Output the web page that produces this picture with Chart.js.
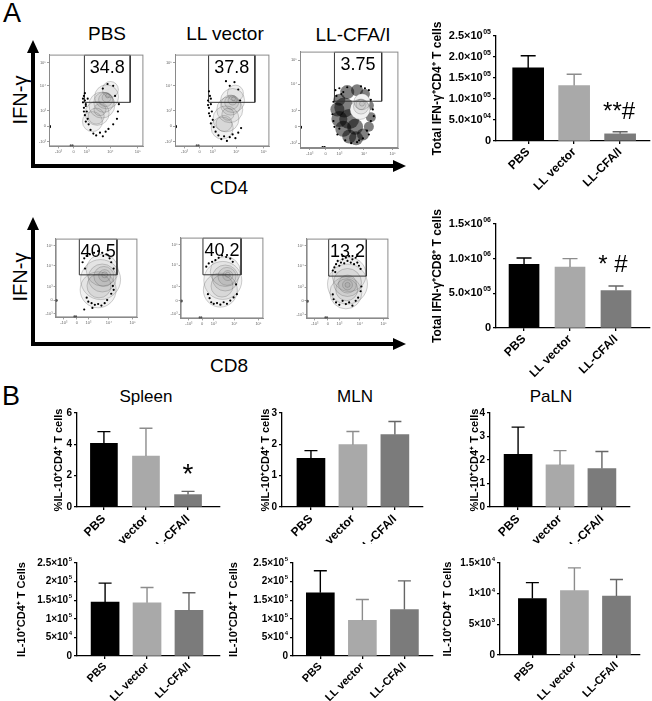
<!DOCTYPE html>
<html><head><meta charset="utf-8">
<script src="https://cdn.jsdelivr.net/npm/chart.js@4.4.1/dist/chart.umd.min.js"></script>
<style>
html,body{margin:0;padding:0;background:#fff;}
#wrap{position:relative;width:652px;height:701px;overflow:hidden;font-family:Arial,"Liberation Sans",Helvetica,sans-serif;background:#fff;}
canvas{position:absolute;}
.lbl{position:absolute;white-space:nowrap;color:#000;line-height:1;transform:translate(-50%,-50%);}
.rot{transform:translate(-50%,-50%) rotate(-90deg);}
svg{position:absolute;left:0;top:0;}
</style></head><body>
<div id="wrap">
  <div class="lbl" style="left:12px;top:13px;font-size:27px">A</div>
  <div class="lbl" style="left:11px;top:396px;font-size:27px">B</div>
  <div class="lbl" style="left:107px;top:33px;font-size:19px">PBS</div>
  <div class="lbl" style="left:225px;top:33px;font-size:19px">LL vector</div>
  <div class="lbl" style="left:353px;top:34px;font-size:19px">LL-CFA/I</div>
  <div class="lbl rot" style="left:20px;top:100px;font-size:20px">IFN-γ</div>
  <div class="lbl rot" style="left:20px;top:277px;font-size:20px">IFN-γ</div>
  <div class="lbl" style="left:229px;top:187px;font-size:19px">CD4</div>
  <div class="lbl" style="left:229px;top:365px;font-size:19px">CD8</div>
  <div class="lbl" style="left:146px;top:396px;font-size:17px">Spleen</div>
  <div class="lbl" style="left:355px;top:396px;font-size:17px">MLN</div>
  <div class="lbl" style="left:551px;top:396px;font-size:17px">PaLN</div>
</div>
<script>
// ---------------- DATA ----------------
const categories = ['PBS', 'LL vector', 'LL-CFA/I'];

// Panel A: total IFN-γ+ CD4+ T cells (mean, SEM)
const ifnCD4Mean = [1.74e5, 1.32e5, 0.17e5];
const ifnCD4Sem  = [0.29e5, 0.27e5, 0.05e5];
const ifnCD4Ticks = [0, 5e4, 1e5, 1.5e5, 2e5, 2.5e5];
const ifnCD4TickLabels = ['0', '5.0×10⁰⁴', '1.0×10⁰⁵', '1.5×10⁰⁵', '2.0×10⁰⁵', '2.5×10⁰⁵'];
const ifnCD4Sig = ['', '', '**#'];

// Panel A: total IFN-γ+ CD8+ T cells
const ifnCD8Mean = [0.92e6, 0.88e6, 0.54e6];
const ifnCD8Sem  = [0.09e6, 0.12e6, 0.065e6];
const ifnCD8Ticks = [0, 5e5, 1e6, 1.5e6];
const ifnCD8TickLabels = ['0', '5.0×10⁰⁵', '1.0×10⁰⁶', '1.5×10⁰⁶'];
const ifnCD8Sig = ['', '', '* #'];

// Panel B: % IL-10+ CD4+ T cells
const pctSpleenMean = [4.06, 3.25, 0.79];
const pctSpleenSem  = [0.75, 1.78, 0.21];
const pctSpleenTicks = [0, 2, 4, 6];
const pctSpleenSig = ['', '', '*'];
const pctMLNMean = [1.55, 1.99, 2.31];
const pctMLNSem  = [0.25, 0.42, 0.42];
const pctMLNTicks = [0, 1, 2, 3];
const pctPaLNMean = [2.24, 1.79, 1.64];
const pctPaLNSem  = [1.16, 0.61, 0.72];
const pctPaLNTicks = [0, 1, 2, 3, 4];

// Panel B: IL-10+ CD4+ T cell counts
const cntSpleenMean = [1.45e5, 1.43e5, 1.23e5];
const cntSpleenSem  = [0.51e5, 0.41e5, 0.47e5];
const cntMLNMean = [1.70e5, 0.96e5, 1.25e5];
const cntMLNSem  = [0.59e5, 0.56e5, 0.77e5];
const cnt5Ticks = [0, 5e4, 1e5, 1.5e5, 2e5, 2.5e5];
const cnt5TickLabels = ['0', '5×10⁴', '1×10⁵', '1.5×10⁵', '2×10⁵', '2.5×10⁵'];
const cntPaLNMean = [9.2e3, 1.05e4, 9.6e3];
const cntPaLNSem  = [2.6e3, 3.7e3, 2.7e3];
const cntPaLNTicks = [0, 5e3, 1e4, 1.5e4];
const cntPaLNTickLabels = ['0', '5×10³', '1×10⁴', '1.5×10⁴'];

// Flow plots (axis units 0-100 on display scale)
const flowXTicks = [10, 26, 40, 65, 94];
const flowYTicks = [5, 22, 39, 66, 91];
const flowTickLabels = ['-10³', '0', '10³', '10⁴', '10⁵'];
const gatePct = ['34.8', '37.8', '3.75', '40.5', '40.2', '13.2'];
const gateX1 = [37.5, 35.6, 35, 29, 27, 27];
const gateX2 = [86, 84.6, 83, 75, 73, 73];
const gateY1 = [48, 48, 48.5, 54, 54, 53];

const cd4PbsRings = [[46,27,10],[51,36,12],[56,45,13],[61,54,12],[65,62,8],[58,48,10],[60,51,7],[61,53,4.5],[62,55,2],[50,33,8],[54,40,6]];
const cd4PbsDots = [[37,55],[38,50],[39,46],[37,42],[40,38],[38,34],[41,30],[39,27],[42,24],[44,18],[47,14],[50,12],[54,15],[57,11],[60,16],[63,19],[68,24],[72,30],[73,38],[74,46],[70,55],[68,66],[62,68],[57,63],[41,52],[36,48],[38,58],[36,52],[39,44],[37,38],[1,22],[1,21],[23,1],[25,1]];
const cd4VecRings = [[50,20,11],[54,30,13],[58,40,13],[61,50,12],[64,58,8],[59,45,10],[60,48,7],[61,50,4.5],[62,52,2],[52,25,8],[56,35,6]];
const cd4VecDots = [[36,60],[37,55],[35,50],[38,46],[36,42],[39,38],[37,33],[40,29],[38,25],[41,21],[43,16],[46,12],[49,8],[52,11],[55,6],[58,10],[61,13],[64,9],[67,15],[70,20],[69,50],[67,62],[63,70],[58,66],[54,71],[35,45],[38,52],[36,36],[1,22],[1,21],[23,1],[25,1]];
const cd4CfaHalo = [[40,50,6],[38,40,7],[40,30,8],[44,20,8],[50,12,7],[57,10,7],[64,14,6],[70,22,5],[72,32,5],[70,44,5],[66,56,5],[58,60,6],[48,58,7],[45,42,10],[50,30,10],[56,22,8]];
const cd4CfaCore = [[61,40,10],[63,48,8]];
const cd4CfaRings = [[61,40,10],[63,48,8],[62,43,7.5],[62,45,5],[63,46,2.5]];
const cd4CfaDots = [[36,60],[40,62],[44,58],[48,63],[62,64],[66,62],[70,60],[72,50],[74,40],[72,28],[68,18],[64,10],[58,6],[52,5],[46,8],[38,14],[35,22],[33,35],[34,48],[75,33],[37,54],[42,56],[34,28],[40,20],[70,14],[60,8],[1,22],[1,21],[23,1],[25,1]];

const cd8PbsRings = [[52,35,18],[55,48,20],[57,60,16],[57,50,14],[59,52,10],[60,53,6],[60,54,3],[53,40,12]];
const cd8PbsDots = [[33,70],[35,75],[38,78],[42,80],[47,82],[52,84],[57,82],[62,80],[66,75],[68,70],[36,62],[71,62],[70,40],[71,35],[68,30],[38,25],[40,20],[44,18],[48,16],[52,17],[56,15],[60,18],[63,22],[35,10],[45,12],[1,22],[1,21],[23,1],[25,1]];
const cd8VecRings = [[48,35,17],[51,47,19],[54,58,15],[54,50,13],[56,52,9],[57,53,5],[57,54,2.5],[50,40,11]];
const cd8VecDots = [[31,64],[34,68],[38,70],[42,72],[46,75],[50,78],[55,76],[60,74],[63,70],[33,30],[35,25],[37,20],[40,18],[44,19],[48,17],[52,20],[56,18],[60,22],[64,26],[68,30],[67,42],[1,22],[1,21],[23,1],[25,1]];
const cd8CfaRings = [[48,32,16],[50,43,20],[52,55,17],[50,45,14],[50,43,9],[50,42,5],[50,42,2.5],[49,36,11]];
const cd8CfaDots = [[32,60],[34,64],[36,68],[38,72],[40,66],[42,70],[44,74],[46,69],[48,76],[50,72],[52,78],[54,70],[56,74],[58,68],[60,76],[62,70],[64,66],[66,62],[62,80],[44,78],[35,58],[32,30],[33,24],[36,20],[40,17],[44,22],[48,18],[52,20],[56,16],[60,22],[63,26],[66,34],[67,40],[1,22],[1,21],[23,1],[25,1]];

// ---------------- STYLE / LAYOUT ----------------
const FONT = 'Arial, "Liberation Sans", Helvetica, sans-serif';
Chart.defaults.font.family = FONT;
const barColors = ['#000000', '#a9a9a9', '#7b7b7b'];
const errColors = ['#000000', '#8c8c8c', '#666666'];
const SUP = '⁰¹²³⁴⁵⁶⁷⁸⁹';
const wrap = document.getElementById('wrap');

function makeCanvas(left, top, w, h) {
  const c = document.createElement('canvas');
  c.width = w; c.height = h;
  c.style.left = left + 'px'; c.style.top = top + 'px';
  c.style.width = w + 'px'; c.style.height = h + 'px';
  wrap.appendChild(c);
  return c;
}

// draws a tick label such as "2.5×10⁰⁵" with a real raised exponent
function drawTickLabel(ctx, text, xRight, y, size) {
  const m = text.match(/^(.*?)([⁰¹²³⁴⁵⁶⁷⁸⁹]*)$/);
  const base = m[1];
  const exp = m[2].split('').map(c => SUP.indexOf(c)).join('');
  const bf = 'bold ' + size + 'px ' + FONT;
  const ef = 'bold ' + Math.round(size * 0.62) + 'px ' + FONT;
  ctx.font = ef; const ew = exp ? ctx.measureText(exp).width + 0.5 : 0;
  ctx.font = bf; const bw = ctx.measureText(base).width;
  const x0 = xRight - ew - bw;
  ctx.textAlign = 'left'; ctx.textBaseline = 'middle'; ctx.fillStyle = '#000';
  ctx.fillText(base, x0, y);
  if (exp) { ctx.font = ef; ctx.fillText(exp, x0 + bw + 0.5, y - size * 0.38); }
}

function barChart(s) {
  const padRight = 3;
  const left = s.axisX - s.yW, top = s.chartTop - s.padTop;
  const w = s.yW + (s.chartRight - s.axisX) + padRight;
  const h = s.padTop + (s.chartBottom - s.chartTop) + s.xH;
  const cv = makeCanvas(left, top, w, h);
  const labels = s.tickLabels || s.ticks.map(String);
  const errPlugin = {
    id: 'err',
    beforeDraw(chart) {
      if (!s.whiteBg) return;
      const ctx = chart.ctx; ctx.save(); ctx.fillStyle = '#fff';
      ctx.fillRect(0, 0, chart.width, chart.height); ctx.restore();
    },
    afterDatasetsDraw(chart) {
      const xs = chart.scales.x, ys = chart.scales.y, ctx = chart.ctx;
      ctx.save();
      s.mean.forEach((m, i) => {
        const x = xs.getPixelForValue(i);
        const y0 = ys.getPixelForValue(m), y1 = ys.getPixelForValue(m + s.sem[i]);
        ctx.strokeStyle = errColors[i]; ctx.lineWidth = 1.4;
        ctx.beginPath();
        ctx.moveTo(x, y0); ctx.lineTo(x, y1);
        ctx.moveTo(x - s.cap / 2, y1); ctx.lineTo(x + s.cap / 2, y1);
        ctx.stroke();
        if (s.sig && s.sig[i]) {
          ctx.fillStyle = '#000';
          ctx.font = (s.sigSize || 24) + 'px ' + FONT;
          ctx.textAlign = 'center'; ctx.textBaseline = 'alphabetic';
          ctx.fillText(s.sig[i], x + (s.sigDx || 0), y1 - s.sigDy);
        }
      });
      // y tick labels with raised exponents
      s.ticks.forEach((v, i) => drawTickLabel(ctx, labels[i], chart.chartArea.left - 5, ys.getPixelForValue(v), s.tickSize || 10));
      ctx.restore();
    }
  };
  const gridStyle = { drawOnChartArea: false, drawTicks: true, tickLength: 3, color: '#000', lineWidth: 1.3, offset: false };
  new Chart(cv, {
    type: 'bar',
    data: { datasets: [{
      data: s.mean.map((v, i) => ({ x: i, y: v })),
      backgroundColor: barColors, borderWidth: 0, barThickness: s.barW
    }] },
    options: {
      responsive: false, animation: false, events: [],
      layout: { padding: { top: s.padTop, right: padRight, left: 0, bottom: 0 } },
      plugins: { legend: { display: false }, tooltip: { enabled: false } },
      scales: {
        x: {
          type: 'linear', min: s.xMin, max: s.xMax, offset: false,
          afterBuildTicks: sc => { sc.ticks = categories.map((c, i) => ({ value: i })); },
          afterFit: sc => { sc.height = s.xH; },
          ticks: { callback: v => categories[v], minRotation: 45, maxRotation: 45, autoSkip: false,
                   font: { weight: 'bold', size: s.catSize || 11 }, color: '#000', padding: s.catPad || 1 },
          grid: gridStyle, border: { color: '#000', width: 1.3 }
        },
        y: {
          min: 0, max: s.ticks[s.ticks.length - 1],
          afterBuildTicks: sc => { sc.ticks = s.ticks.map(v => ({ value: v })); },
          afterFit: sc => { sc.width = s.yW; },
          ticks: { callback: v => labels[s.ticks.indexOf(v)], color: 'rgba(0,0,0,0)', font: { weight: 'bold', size: s.tickSize || 10 }, padding: 2 },
          grid: gridStyle, border: { color: '#000', width: 1.3 },
          title: { display: true, text: s.title, color: '#000', font: { weight: 'bold', size: s.titleSize || 11 }, padding: { top: 4, bottom: 0 } }
        }
      }
    },
    plugins: [errPlugin]
  });
}

function toPts(a) { return a.map(p => ({ x: p[0], y: p[1] })); }
function toBub(a) { return a.map(p => ({ x: p[0], y: p[1], r: p[2] })); }

function flowChart(f, gi, rings, dots, halo, core) {
  const yW = 14, xH = 12, padTop = 4, padRight = 4;
  const cv = makeCanvas(f.l - yW, f.t - padTop, f.w + yW + padRight, f.h + padTop + xH);
  const gate = [[gateX1[gi], gateY1[gi]], [gateX1[gi], 99.5], [gateX2[gi], 99.5], [gateX2[gi], gateY1[gi]], [gateX1[gi], gateY1[gi]]];
  const ds = [
    { type: 'scatter', data: toPts(dots), pointRadius: 1.1, pointBackgroundColor: '#000', pointBorderWidth: 0, order: 0 },
    { type: 'line', data: toPts(gate), borderColor: '#333', borderWidth: 1, pointRadius: 0, fill: false, tension: 0, order: 1 },
    { type: 'bubble', data: toBub(rings), backgroundColor: 'rgba(120,120,120,0.10)', borderColor: 'rgba(80,80,80,0.45)', borderWidth: 0.6, order: 2 }
  ];
  if (core) ds.push({ type: 'bubble', data: toBub(core), backgroundColor: '#ffffff', borderWidth: 0, order: 3 });
  if (halo) ds.push({ type: 'bubble', data: toBub(halo), backgroundColor: 'rgba(0,0,0,0.5)', borderWidth: 0, order: 4 });
  const framePlugin = {
    id: 'frame',
    afterDatasetsDraw(chart) {
      const a = chart.chartArea, ctx = chart.ctx, xs = chart.scales.x, ys = chart.scales.y;
      ctx.save();
      ctx.strokeStyle = '#8a8a8a'; ctx.lineWidth = 1;
      ctx.strokeRect(a.left + 0.5, a.top + 0.5, a.right - a.left - 1, a.bottom - a.top - 1);
      ctx.fillStyle = '#000'; ctx.font = '18px ' + FONT;
      ctx.textAlign = 'center'; ctx.textBaseline = 'middle';
      const gx = (xs.getPixelForValue(gateX1[gi]) + xs.getPixelForValue(gateX2[gi])) / 2;
      ctx.fillText(gatePct[gi], gx, ys.getPixelForValue(99.5) + 13);
      ctx.restore();
    }
  };
  const axGrid = { drawOnChartArea: false, drawTicks: true, tickLength: 2, color: '#888', lineWidth: 0.8 };
  new Chart(cv, {
    type: 'scatter',
    data: { datasets: ds },
    options: {
      responsive: false, animation: false, events: [],
      layout: { padding: { top: padTop, right: padRight, left: 0, bottom: 0 } },
      plugins: { legend: { display: false }, tooltip: { enabled: false } },
      scales: {
        x: { type: 'linear', min: 0, max: 100,
             afterBuildTicks: sc => { sc.ticks = flowXTicks.map(v => ({ value: v })); },
             afterFit: sc => { sc.height = xH; },
             ticks: { callback: v => flowTickLabels[flowXTicks.indexOf(v)], font: { size: 4 }, color: '#666', padding: 1, maxRotation: 0, autoSkip: false },
             grid: axGrid, border: { color: '#8a8a8a', width: 1 } },
        y: { type: 'linear', min: 0, max: 100,
             afterBuildTicks: sc => { sc.ticks = flowYTicks.map(v => ({ value: v })); },
             afterFit: sc => { sc.width = yW; },
             ticks: { callback: v => flowTickLabels[flowYTicks.indexOf(v)], font: { size: 4 }, color: '#666', padding: 1, autoSkip: false },
             grid: axGrid, border: { color: '#8a8a8a', width: 1 } }
      }
    },
    plugins: [framePlugin]
  });
}

// ---------------- FLOW PLOTS ----------------
flowChart({ l: 49, t: 45, w: 104, h: 103 }, 0, cd4PbsRings, cd4PbsDots);
flowChart({ l: 175, t: 45, w: 104, h: 103 }, 1, cd4VecRings, cd4VecDots);
flowChart({ l: 300, t: 45, w: 105, h: 103 }, 2, cd4CfaRings, cd4CfaDots, cd4CfaHalo, cd4CfaCore);
flowChart({ l: 49, t: 222, w: 105, h: 104 }, 3, cd8PbsRings, cd8PbsDots);
flowChart({ l: 175, t: 222, w: 104, h: 104 }, 4, cd8VecRings, cd8VecDots);
flowChart({ l: 300, t: 222, w: 105, h: 105 }, 5, cd8CfaRings, cd8CfaDots);

// ---------------- BAR CHARTS ----------------
barChart({ axisX: 496, chartTop: 36, chartBottom: 141, chartRight: 650, yW: 70, xH: 50, padTop: 22,
  xMin: -0.70, xMax: 2.65, barW: 31, cap: 15, mean: ifnCD4Mean, sem: ifnCD4Sem,
  ticks: ifnCD4Ticks, tickLabels: ifnCD4TickLabels, title: 'Total IFN-γ⁺CD4⁺ T cells', titleSize: 12, tickSize: 11, catSize: 12,
  sig: ifnCD4Sig, sigDy: 13, sigDx: -1 });
barChart({ axisX: 496, chartTop: 224, chartBottom: 328, chartRight: 650, yW: 70, xH: 50, padTop: 22,
  xMin: -0.61, xMax: 2.74, barW: 30, cap: 15, mean: ifnCD8Mean, sem: ifnCD8Sem,
  ticks: ifnCD8Ticks, tickLabels: ifnCD8TickLabels, title: 'Total IFN-γ⁺CD8⁺ T cells', titleSize: 12, tickSize: 11, catSize: 12,
  sig: ifnCD8Sig, sigDy: 14, sigDx: -3 });

barChart({ axisX: 77, chartTop: 413, chartBottom: 507, chartRight: 220, yW: 29, xH: 40, padTop: 8,
  xMin: -0.64, xMax: 2.76, barW: 27, cap: 13, mean: pctSpleenMean, sem: pctSpleenSem,
  ticks: pctSpleenTicks, title: '%IL-10⁺CD4⁺ T cells', titleSize: 11, tickSize: 10, catSize: 12, catPad: 2,
  sig: pctSpleenSig, sigDy: 8, sigSize: 28 });
barChart({ axisX: 282, chartTop: 413, chartBottom: 507, chartRight: 423, yW: 27, xH: 40, padTop: 8,
  xMin: -0.69, xMax: 2.67, barW: 28, cap: 13, mean: pctMLNMean, sem: pctMLNSem,
  ticks: pctMLNTicks, title: '%IL-10⁺CD4⁺ T cells', titleSize: 11, tickSize: 10, catSize: 12, catPad: 2 });
barChart({ axisX: 490, chartTop: 413, chartBottom: 507, chartRight: 630, yW: 26, xH: 40, padTop: 8,
  xMin: -0.67, xMax: 2.67, barW: 28, cap: 13, mean: pctPaLNMean, sem: pctPaLNSem,
  ticks: pctPaLNTicks, title: '%IL-10⁺CD4⁺ T cells', titleSize: 11, tickSize: 10, catSize: 12, catPad: 2 });

barChart({ axisX: 77, chartTop: 563, chartBottom: 656, chartRight: 220, yW: 66, xH: 45, padTop: 19, whiteBg: true,
  xMin: -0.67, xMax: 2.74, barW: 28, cap: 13, mean: cntSpleenMean, sem: cntSpleenSem,
  ticks: cnt5Ticks, tickLabels: cnt5TickLabels, title: 'IL-10⁺CD4⁺ T Cells', titleSize: 11, tickSize: 10, catSize: 11 });
barChart({ axisX: 293, chartTop: 563, chartBottom: 656, chartRight: 433, yW: 70, xH: 45, padTop: 19, whiteBg: true,
  xMin: -0.65, xMax: 2.68, barW: 28, cap: 13, mean: cntMLNMean, sem: cntMLNSem,
  ticks: cnt5Ticks, tickLabels: cnt5TickLabels, title: 'IL-10⁺CD4⁺ T Cells', titleSize: 11, tickSize: 10, catSize: 11 });
barChart({ axisX: 500, chartTop: 563, chartBottom: 655, chartRight: 640, yW: 63, xH: 46, padTop: 19, whiteBg: true,
  xMin: -0.77, xMax: 2.56, barW: 28, cap: 13, mean: cntPaLNMean, sem: cntPaLNSem,
  ticks: cntPaLNTicks, tickLabels: cntPaLNTickLabels, title: 'IL-10⁺CD4⁺ T Cells', titleSize: 11, tickSize: 10, catSize: 11 });

// ---------------- BIG AXIS ARROWS ----------------
const svgNS = 'http://www.w3.org/2000/svg';
const svg = document.createElementNS(svgNS, 'svg');
svg.setAttribute('width', '652'); svg.setAttribute('height', '701');
svg.innerHTML =
  '<g stroke="#000" stroke-width="4" fill="none">' +
  '<line x1="33" y1="168" x2="33" y2="50"/><line x1="31" y1="166" x2="395" y2="166"/>' +
  '<line x1="33" y1="346" x2="33" y2="227"/><line x1="31" y1="344" x2="395" y2="344"/></g>' +
  '<g fill="#000"><polygon points="33,40 27,53 39,53"/><polygon points="406,166 393,160 393,172"/>' +
  '<polygon points="33,217 27,230 39,230"/><polygon points="406,344 393,338 393,350"/></g>';
wrap.appendChild(svg);
</script>
</body></html>
